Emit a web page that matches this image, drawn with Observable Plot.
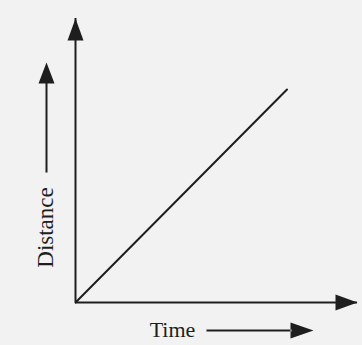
<!DOCTYPE html>
<html>
<head>
<meta charset="utf-8">
<script src="https://cdn.jsdelivr.net/npm/d3@7"></script>
<script src="https://cdn.jsdelivr.net/npm/@observablehq/plot@0.6"></script>
<style>
  html, body { margin: 0; padding: 0; background: #f2f2f2; }
  #chart svg { display: block; background: #f2f2f2; }
</style>
</head>
<body>
<div id="chart"></div>
<script>
// Data
const time = [0, 7.5];
const distance = [0, 7.5];
const xDomain = [0, 10];
const yDomain = [0, 10];
const xLabel = "Time";
const yLabel = "Distance";

const rows = time.map((t, i) => ({time: t, distance: distance[i]}));
const ink = "#1e1e1e";

// Custom arrow symbols (tip at the anchor point)
function upArrow(len, head = 22, half = 8, shaft = 1) {
  return {draw(ctx) {
    ctx.moveTo(0, 0); ctx.lineTo(half, head); ctx.lineTo(-half, head); ctx.closePath();
    if (len > head) ctx.rect(-shaft, head - 1, 2 * shaft, len - head + 1);
  }};
}
function rightArrow(len, head = 22, half = 8, shaft = 1) {
  return {draw(ctx) {
    ctx.moveTo(0, 0); ctx.lineTo(-head, -half); ctx.lineTo(-head, half); ctx.closePath();
    if (len > head) ctx.rect(-len, -shaft, len - head + 1, 2 * shaft);
  }};
}

const chart = Plot.plot({
  width: 362,
  height: 345,
  marginLeft: 75,
  marginRight: 5,
  marginTop: 18,
  marginBottom: 43,
  style: {background: "#f2f2f2"},
  x: {domain: xDomain, axis: null},
  y: {domain: yDomain, axis: null},
  marks: [
    Plot.ruleY([yDomain[0]], {x1: xDomain[0], x2: xDomain[1], stroke: ink, strokeWidth: 2}),
    Plot.ruleX([xDomain[0]], {y1: yDomain[0], y2: yDomain[1], stroke: ink, strokeWidth: 2}),
    Plot.line(rows, {x: "time", y: "distance", stroke: ink, strokeWidth: 2}),
    // axis arrowheads
    Plot.dot([{x: xDomain[0], y: yDomain[1]}], {x: "x", y: "y", symbol: upArrow(0), fill: ink, stroke: "none", r: 5}),
    Plot.dot([{x: xDomain[1], y: yDomain[0]}], {x: "x", y: "y", symbol: rightArrow(0), fill: ink, stroke: "none", r: 5}),
    // y label + arrow
    Plot.text([yLabel], {
      frameAnchor: "bottom-left", dx: -30, dy: -75, rotate: -90,
      fontFamily: "Liberation Serif", fontSize: 23, fill: ink, textAnchor: "middle", lineAnchor: "middle"
    }),
    Plot.dot([yLabel], {frameAnchor: "bottom-left", dx: -29, dy: -240, symbol: upArrow(110, 21, 8, 1), fill: ink, stroke: "none", r: 5}),
    // x label + arrow
    Plot.text([xLabel], {
      frameAnchor: "bottom-left", dx: 97, dy: 27,
      fontFamily: "Liberation Serif", fontSize: 22, fill: ink, textAnchor: "middle", lineAnchor: "middle"
    }),
    Plot.dot([xLabel], {frameAnchor: "bottom-left", dx: 238, dy: 28, symbol: rightArrow(107, 23, 8, 1), fill: ink, stroke: "none", r: 5})
  ]
});
document.getElementById("chart").appendChild(chart);
</script>
</body>
</html>
